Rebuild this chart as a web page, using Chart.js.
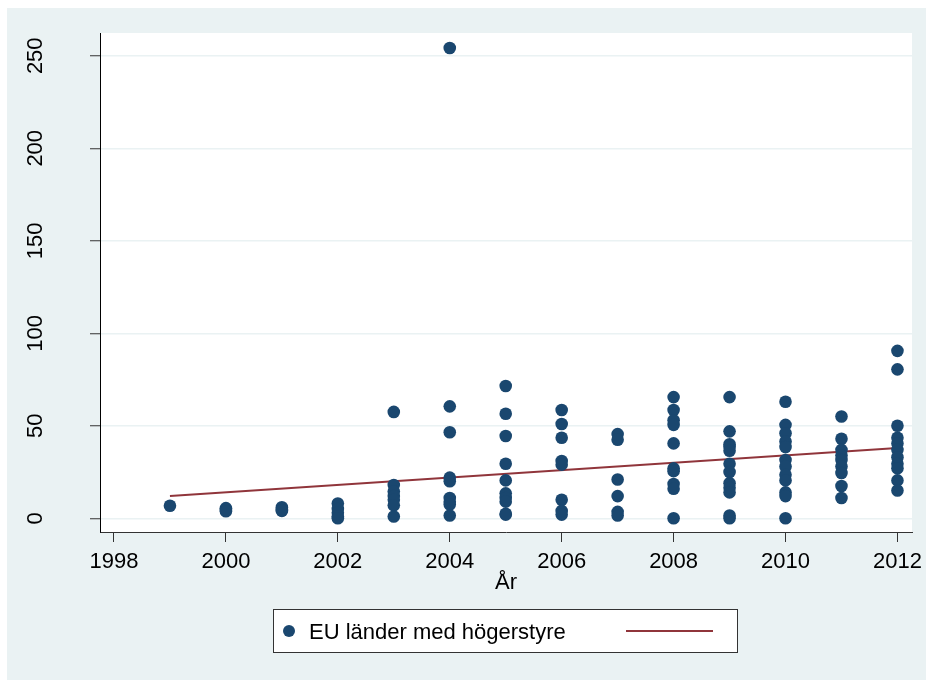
<!DOCTYPE html>
<html>
<head>
<meta charset="utf-8">
<script src="https://cdn.jsdelivr.net/npm/chart.js@4/dist/chart.umd.min.js"></script>
<style>
  body { margin: 0; background: #fff; }
  #wrap { width: 926px; height: 680px; }
</style>
</head>
<body>
<div id="wrap"><canvas id="chart" width="926" height="680"></canvas></div>
<script>
/* ================= DATA ================= */
const years = [1999, 2000, 2001, 2002, 2003, 2004, 2005, 2006, 2007, 2008, 2009, 2010, 2011, 2012];
const yearValues = [
    [6.8],
    [5.5, 4.5, 3.8],
    [6, 4.5, 4],
    [8, 5, 3, 1, 0],
    [57.5, 18, 14.5, 12, 10, 7, 1],
    [254.2, 60.5, 46.5, 22, 20, 11, 9, 7.5, 1.5],
    [71.5, 56.5, 44.5, 29.5, 20.5, 13.5, 11, 9, 2.5, 2],
    [58.5, 51, 43.5, 31, 29, 10, 4, 2],
    [45.5, 42.5, 21, 12, 3.5, 1.5],
    [65.5, 58.5, 53, 50.5, 40.5, 27, 25.5, 18.5, 16, 0],
    [65.5, 47, 40, 38.5, 36.5, 29.5, 25, 19, 16.5, 14, 1.5, 0],
    [63, 50.5, 46, 41.5, 38.5, 31.5, 28, 23.5, 20.5, 14, 12, 0],
    [55, 43, 37, 34, 31.5, 28, 24.5, 17.5, 11],
    [90.5, 80.5, 50, 43.5, 40.5, 37, 33, 29.5, 27, 20.5, 15]
];
const fitYears = [1999, 2012];
const fitValues = [12.1, 38.0];
const xTicks = [1998, 2000, 2002, 2004, 2006, 2008, 2010, 2012];
const yTicks = [0, 50, 100, 150, 200, 250];
const seriesLabel = 'EU länder med högerstyre';
const xTitle = 'År';

/* ================= STYLE ================= */
const FONT = '"Liberation Sans", Arial, Helvetica, sans-serif';
const NAVY = '#1a476f';
const MAROON = '#90353b';
const BG = '#eaf2f3';

const points = [];
years.forEach((yr, i) => yearValues[i].forEach(v => points.push({ x: yr, y: v })));
const fitLine = fitYears.map((yr, i) => ({ x: yr, y: fitValues[i] }));

const backgroundPlugin = {
    id: 'stataBackground',
    beforeDraw(chart) {
        const { ctx, chartArea: a } = chart;
        ctx.save();
        ctx.fillStyle = '#fff';
        ctx.fillRect(0, 0, chart.width, chart.height);
        ctx.fillStyle = BG;
        ctx.fillRect(7, 8, chart.width - 7, chart.height - 8);
        ctx.fillStyle = '#fff';
        ctx.fillRect(a.left, a.top, a.right - a.left, a.bottom - a.top);
        ctx.restore();
    }
};

// rotated y tick labels + boxed legend
const extrasPlugin = {
    id: 'stataExtras',
    afterDraw(chart) {
        const { ctx } = chart;
        const yScale = chart.scales.y;
        ctx.save();
        ctx.fillStyle = '#000';
        ctx.font = '22px ' + FONT;
        ctx.textAlign = 'center';
        ctx.textBaseline = 'alphabetic';
        yTicks.forEach(t => {
            const py = yScale.getPixelForValue(t);
            ctx.save();
            ctx.translate(42, py);
            ctx.rotate(-Math.PI / 2);
            ctx.fillText(String(t), 0, 0);
            ctx.restore();
        });

        // legend
        ctx.fillStyle = '#fff';
        ctx.fillRect(273, 609, 464, 44);
        ctx.strokeStyle = '#333';
        ctx.lineWidth = 1;
        ctx.strokeRect(273.5, 609.5, 464, 43);
        ctx.fillStyle = NAVY;
        ctx.beginPath();
        ctx.arc(289, 631, 6, 0, Math.PI * 2);
        ctx.fill();
        ctx.fillStyle = '#000';
        ctx.textAlign = 'left';
        ctx.fillText(seriesLabel, 309, 639);
        ctx.strokeStyle = MAROON;
        ctx.lineWidth = 2;
        ctx.beginPath();
        ctx.moveTo(626, 631);
        ctx.lineTo(713, 631);
        ctx.stroke();
        ctx.restore();
    }
};

new Chart(document.getElementById('chart'), {
    type: 'scatter',
    data: {
        datasets: [{
            label: seriesLabel,
            data: points,
            backgroundColor: NAVY,
            borderColor: NAVY,
            pointRadius: 6.3,
            pointBorderWidth: 0
        }, {
            type: 'line',
            label: '',
            data: fitLine,
            borderColor: MAROON,
            borderWidth: 2,
            pointRadius: 0,
            fill: false
        }]
    },
    options: {
        responsive: false,
        animation: false,
        layout: { padding: { top: 33, right: 14, bottom: 84, left: 0 } },
        plugins: { legend: { display: false }, tooltip: { enabled: false } },
        scales: {
            x: {
                type: 'linear',
                min: 1997.75,
                max: 2012.26,
                afterBuildTicks: s => { s.ticks = xTicks.map(v => ({ value: v })); },
                afterFit: s => { s.height = 64; s.paddingLeft = 0; s.paddingRight = 0; },
                grid: { drawOnChartArea: false, tickLength: 10, tickColor: '#333', tickWidth: 1 },
                border: { color: '#333', width: 1 },
                ticks: {
                    color: '#000',
                    font: { family: FONT, size: 22 },
                    padding: 7,
                    maxRotation: 0,
                    callback: v => String(v)
                },
                title: { display: true, text: xTitle, color: '#000', font: { family: FONT, size: 22 }, padding: 0 }
            },
            y: {
                type: 'linear',
                min: -7.4,
                max: 262.3,
                afterBuildTicks: s => { s.ticks = yTicks.map(v => ({ value: v })); },
                afterFit: s => { s.width = 100; s.paddingTop = 0; s.paddingBottom = 0; },
                grid: { color: BG, lineWidth: 1.5, tickLength: 10, tickColor: '#333', tickWidth: 1 },
                border: { color: '#000', width: 1 },
                ticks: { display: false }
            }
        }
    },
    plugins: [backgroundPlugin, extrasPlugin]
});
</script>
</body>
</html>
